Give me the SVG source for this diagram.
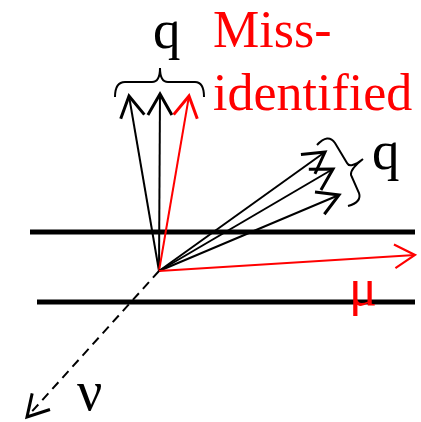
<svg xmlns="http://www.w3.org/2000/svg" width="421" height="422" viewBox="0 0 421 422">
<style>
.blk{stroke:#000;stroke-width:2;fill:none}
.red{stroke:#f00;stroke-width:2;fill:none}
.det{stroke:#000;stroke-width:5}
.t{font-family:"Liberation Serif","Times New Roman",serif;font-size:52px}
.q{font-size:55px}
</style>
<defs>
<marker id="hb" markerUnits="userSpaceOnUse" markerWidth="30" markerHeight="30" viewBox="-16 -10 20 20" refX="0" refY="0" orient="auto">
<path d="M-14,-8 L0,0 L-14,8" fill="none" stroke="#000" stroke-width="2"/>
</marker>
<marker id="hs" markerUnits="userSpaceOnUse" markerWidth="30" markerHeight="30" viewBox="-16 -10 20 20" refX="0" refY="0" orient="auto">
<path d="M-14,-8 L0,0 L-14,8" fill="none" stroke="#f00" stroke-width="2"/>
</marker>
<marker id="hr" markerUnits="userSpaceOnUse" markerWidth="30" markerHeight="30" viewBox="-22 -14 26 28" refX="0" refY="0" orient="auto">
<path d="M-19,-11 L0,0 L-19,11" fill="none" stroke="#f00" stroke-width="2"/>
</marker>
</defs>
<g id="detector">
<line class="det" x1="30" y1="232" x2="415" y2="232"/>
<line class="det" x1="37" y1="302" x2="415" y2="302"/>
</g>
<g id="connectors">
<line class="blk" x1="159" y1="271" x2="129" y2="96" marker-end="url(#hb)"/>
<line class="blk" x1="159" y1="271" x2="160" y2="94" marker-end="url(#hb)"/>
<line class="red" x1="159" y1="271" x2="189" y2="96" marker-end="url(#hs)"/>
<line class="blk" x1="159" y1="271" x2="325" y2="152" marker-end="url(#hb)"/>
<line class="blk" x1="159" y1="271" x2="333" y2="169" marker-end="url(#hb)"/>
<line class="blk" x1="159" y1="271" x2="339" y2="195" marker-end="url(#hb)"/>
<line class="red" x1="159" y1="271" x2="415" y2="255" marker-end="url(#hr)"/>
<line class="blk" x1="159" y1="271" x2="27" y2="417" stroke-dasharray="9,6" marker-end="url(#hb)"/>
</g>
<g id="brace-top">
<path class="blk" d="M115,97 Q115,82 125,82 L152,82 Q160,82 160,68 Q160,82 168,82 L195,82 Q204,82 204,97"/>
</g>
<g id="brace-right">
<path class="blk" d="M317,145 Q328,133 335,143 L347,163 Q350,169 363,159 Q350,169 351,175 L359,193 Q362,202 348,206"/>
</g>
<g id="labels">
<text class="t q" x="153" y="48">q</text>
<text class="t q" x="372" y="169">q</text>
<text class="t" x="213" y="47" fill="#f00">Miss-</text>
<text class="t" x="213" y="110" fill="#f00">identified</text>
<text class="t" x="349" y="305" fill="#f00">μ</text>
<text class="t" x="77" y="410" style="font-size:56px">ν</text>
</g>
</svg>
